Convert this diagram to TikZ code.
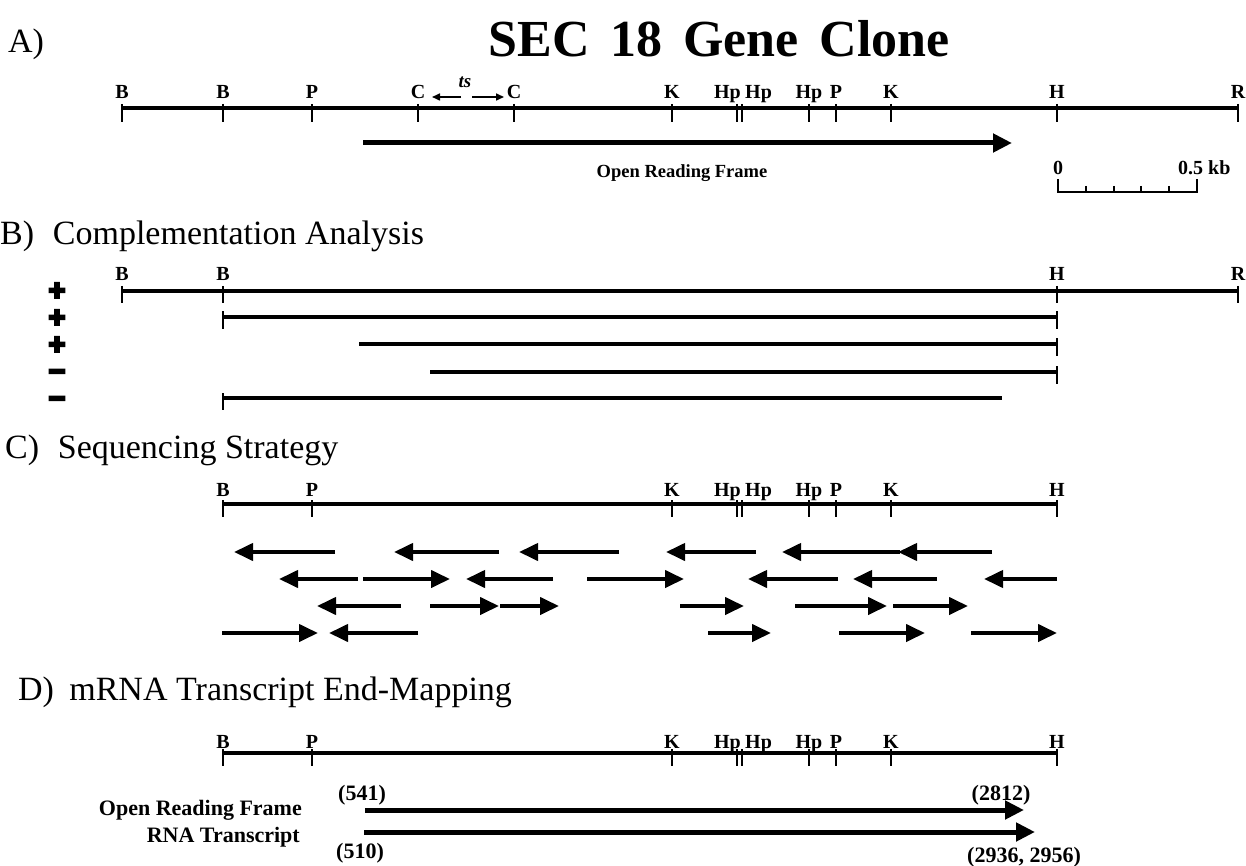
\documentclass[tikz,border=0pt]{standalone}
\usepackage{fontspec}
\setmainfont{Liberation Serif}
\newfontfamily\signfont[FakeBold=8]{Liberation Sans}
\usetikzlibrary{arrows.meta}
\newcommand\mysitefont{\fontsize{20}{22}\selectfont\bfseries}
\begin{document}
\begin{tikzpicture}[x=1pt,y=-1pt,
  mapline/.style={line width=3.5pt},
  tickmark/.style={line width=2pt},
  sitelab/.style={font=\mysitefont, anchor=base, inner sep=0pt},
  header/.style={font=\fontsize{34}{40}\selectfont, anchor=base west, inner sep=0pt},
  smalllab/.style={font=\fontsize{22}{24}\selectfont\bfseries, anchor=base, inner sep=0pt},
  seq/.style={line width=4pt, -{Triangle[length=19pt,width=17pt]}},
  orf/.style={line width=5pt, -{Triangle[length=19pt,width=18pt]}},
  tsarrow/.style={line width=1.6pt, -{Triangle[length=8pt,width=7pt]}},
  sign/.style={font=\signfont\bfseries\fontsize{29}{30}\selectfont, anchor=base, inner sep=0pt},
]
\useasboundingbox (0,0) rectangle (1246,866);

% ---------------- A
\node[header] (labA) at (8,53) {A)};
\node[font=\fontsize{52}{56}\selectfont\bfseries, anchor=base, inner sep=0pt] (title) at (719,57) {\spaceskip=0.4em SEC 18 Gene Clone};
\draw[mapline] (122,108) -- (1238,108);
\foreach \x in {122,223,312,418,514,672,737,742,809,836,891,1057,1238}
  \draw[tickmark] (\x,104) -- (\x,122);
\foreach \x/\l/\n in {122/B/1,223/B/2,312/P/3,418/C/4,514/C/5,672/K/6,809/Hp/7,836/P/8,891/K/9,1057/H/10,1238/R/11}
  \node[sitelab] (a\n) at (\x,99) {\l};
\node[sitelab, anchor=base east] (a12) at (741,99) {Hp};
\node[sitelab, anchor=base west] (a13) at (745,99) {Hp};
\node[font=\fontsize{19}{20}\selectfont\bfseries\itshape, anchor=base, inner sep=0pt] (ts) at (465,88) {ts};
\draw[tsarrow] (461,97) -- (432,97);
\draw[tsarrow] (472,97) -- (504,97);
\draw[orf] (363,143) -- (1012,143);
\node[smalllab, font=\fontsize{18.5}{20}\selectfont\bfseries] (orfA) at (682,178) {Open Reading Frame};
% scale bar
\draw[tickmark] (1058,179) -- (1058,192) -- (1197,192) -- (1197,179);
\foreach \x in {1086,1114,1141,1169}
  \draw[tickmark] (\x,186) -- (\x,192);
\node[smalllab, font=\fontsize{20}{22}\selectfont\bfseries] (s0) at (1058,175) {0};
\node[smalllab, font=\fontsize{20}{22}\selectfont\bfseries, anchor=base west] (s5) at (1178,175) {0.5 kb};

% ---------------- B
\node[header] (labB) at (0,245) {B)\hspace{0.55em}Complementation Analysis};
\draw[mapline] (122,291) -- (1238,291);
\foreach \x in {122,223,1057,1238}
  \draw[tickmark] (\x,286) -- (\x,303);
\foreach \x/\l/\n in {122/B/1,223/B/2,1057/H/3,1238/R/4}
  \node[sitelab] (b\n) at (\x,280) {\l};
\draw[mapline] (223,317) -- (1057,317);
\foreach \x in {223,1057} \draw[tickmark] (\x,311) -- (\x,329);
\draw[mapline] (359,344) -- (1057,344);
\draw[tickmark] (1057,338) -- (1057,356);
\draw[mapline] (430,372) -- (1057,372);
\draw[tickmark] (1057,366) -- (1057,384);
\draw[mapline] (223,398) -- (1002,398);
\draw[tickmark] (223,393) -- (223,410);
\node[sign] (p1) at (57,300) {+};
\node[sign] (p2) at (57,327) {+};
\node[sign] (p3) at (57,354) {+};
\node[sign] (m1) at (57,381) {−};
\node[sign] (m2) at (57,408) {−};

% ---------------- C
\node[header] (labC) at (5,458) {C)\hspace{0.55em}Sequencing Strategy};
\draw[mapline] (223,504) -- (1057,504);
\foreach \x in {223,312,672,737,742,809,836,891,1057}
  \draw[tickmark] (\x,500) -- (\x,517);
\foreach \x/\l/\n in {223/B/1,312/P/2,672/K/3,809/Hp/4,836/P/5,891/K/6,1057/H/7}
  \node[sitelab] (c\n) at (\x,496) {\l};
\node[sitelab, anchor=base east] (c8) at (741,496) {Hp};
\node[sitelab, anchor=base west] (c9) at (745,496) {Hp};
% row 1
\foreach \a/\b in {335/234,499/394,619/519,756/666,992/898,900/782}
  \draw[seq] (\a,552) -- (\b,552);
% row 2
\foreach \a/\b in {358/279,363/450,553/466,587/684,838/748,937/853,1057/984}
  \draw[seq] (\a,579) -- (\b,579);
% row 3
\foreach \a/\b in {401/317,430/499,500/559,680/744,795/887,893/968}
  \draw[seq] (\a,606) -- (\b,606);
% row 4
\foreach \a/\b in {222/318,418/329,708/771,839/925,971/1057}
  \draw[seq] (\a,633) -- (\b,633);

% ---------------- D
\node[header] (labD) at (18,700) {D)\hspace{0.45em}mRNA Transcript End-Mapping};
\draw[mapline] (223,753) -- (1057,753);
\foreach \x in {223,312,672,737,742,809,836,891,1057}
  \draw[tickmark] (\x,749) -- (\x,766);
\foreach \x/\l/\n in {223/B/1,312/P/2,672/K/3,809/Hp/4,836/P/5,891/K/6,1057/H/7}
  \node[sitelab] (d\n) at (\x,748) {\l};
\node[sitelab, anchor=base east] (d8) at (741,748) {Hp};
\node[sitelab, anchor=base west] (d9) at (745,748) {Hp};
\node[smalllab, anchor=base east] (orfD) at (302,815) {Open Reading Frame};
\node[smalllab, anchor=base east] (rnaD) at (300,842) {RNA Transcript};
\node[smalllab] (n541) at (362,800) {(541)};
\node[smalllab] (n2812) at (1001,800) {(2812)};
\node[smalllab] (n510) at (360,858) {(510)};
\node[smalllab] (n2936) at (1024,862) {(2936, 2956)};
\draw[orf] (365,810) -- (1024,810);
\draw[orf] (364,832) -- (1035,832);
\end{tikzpicture}
\end{document}
